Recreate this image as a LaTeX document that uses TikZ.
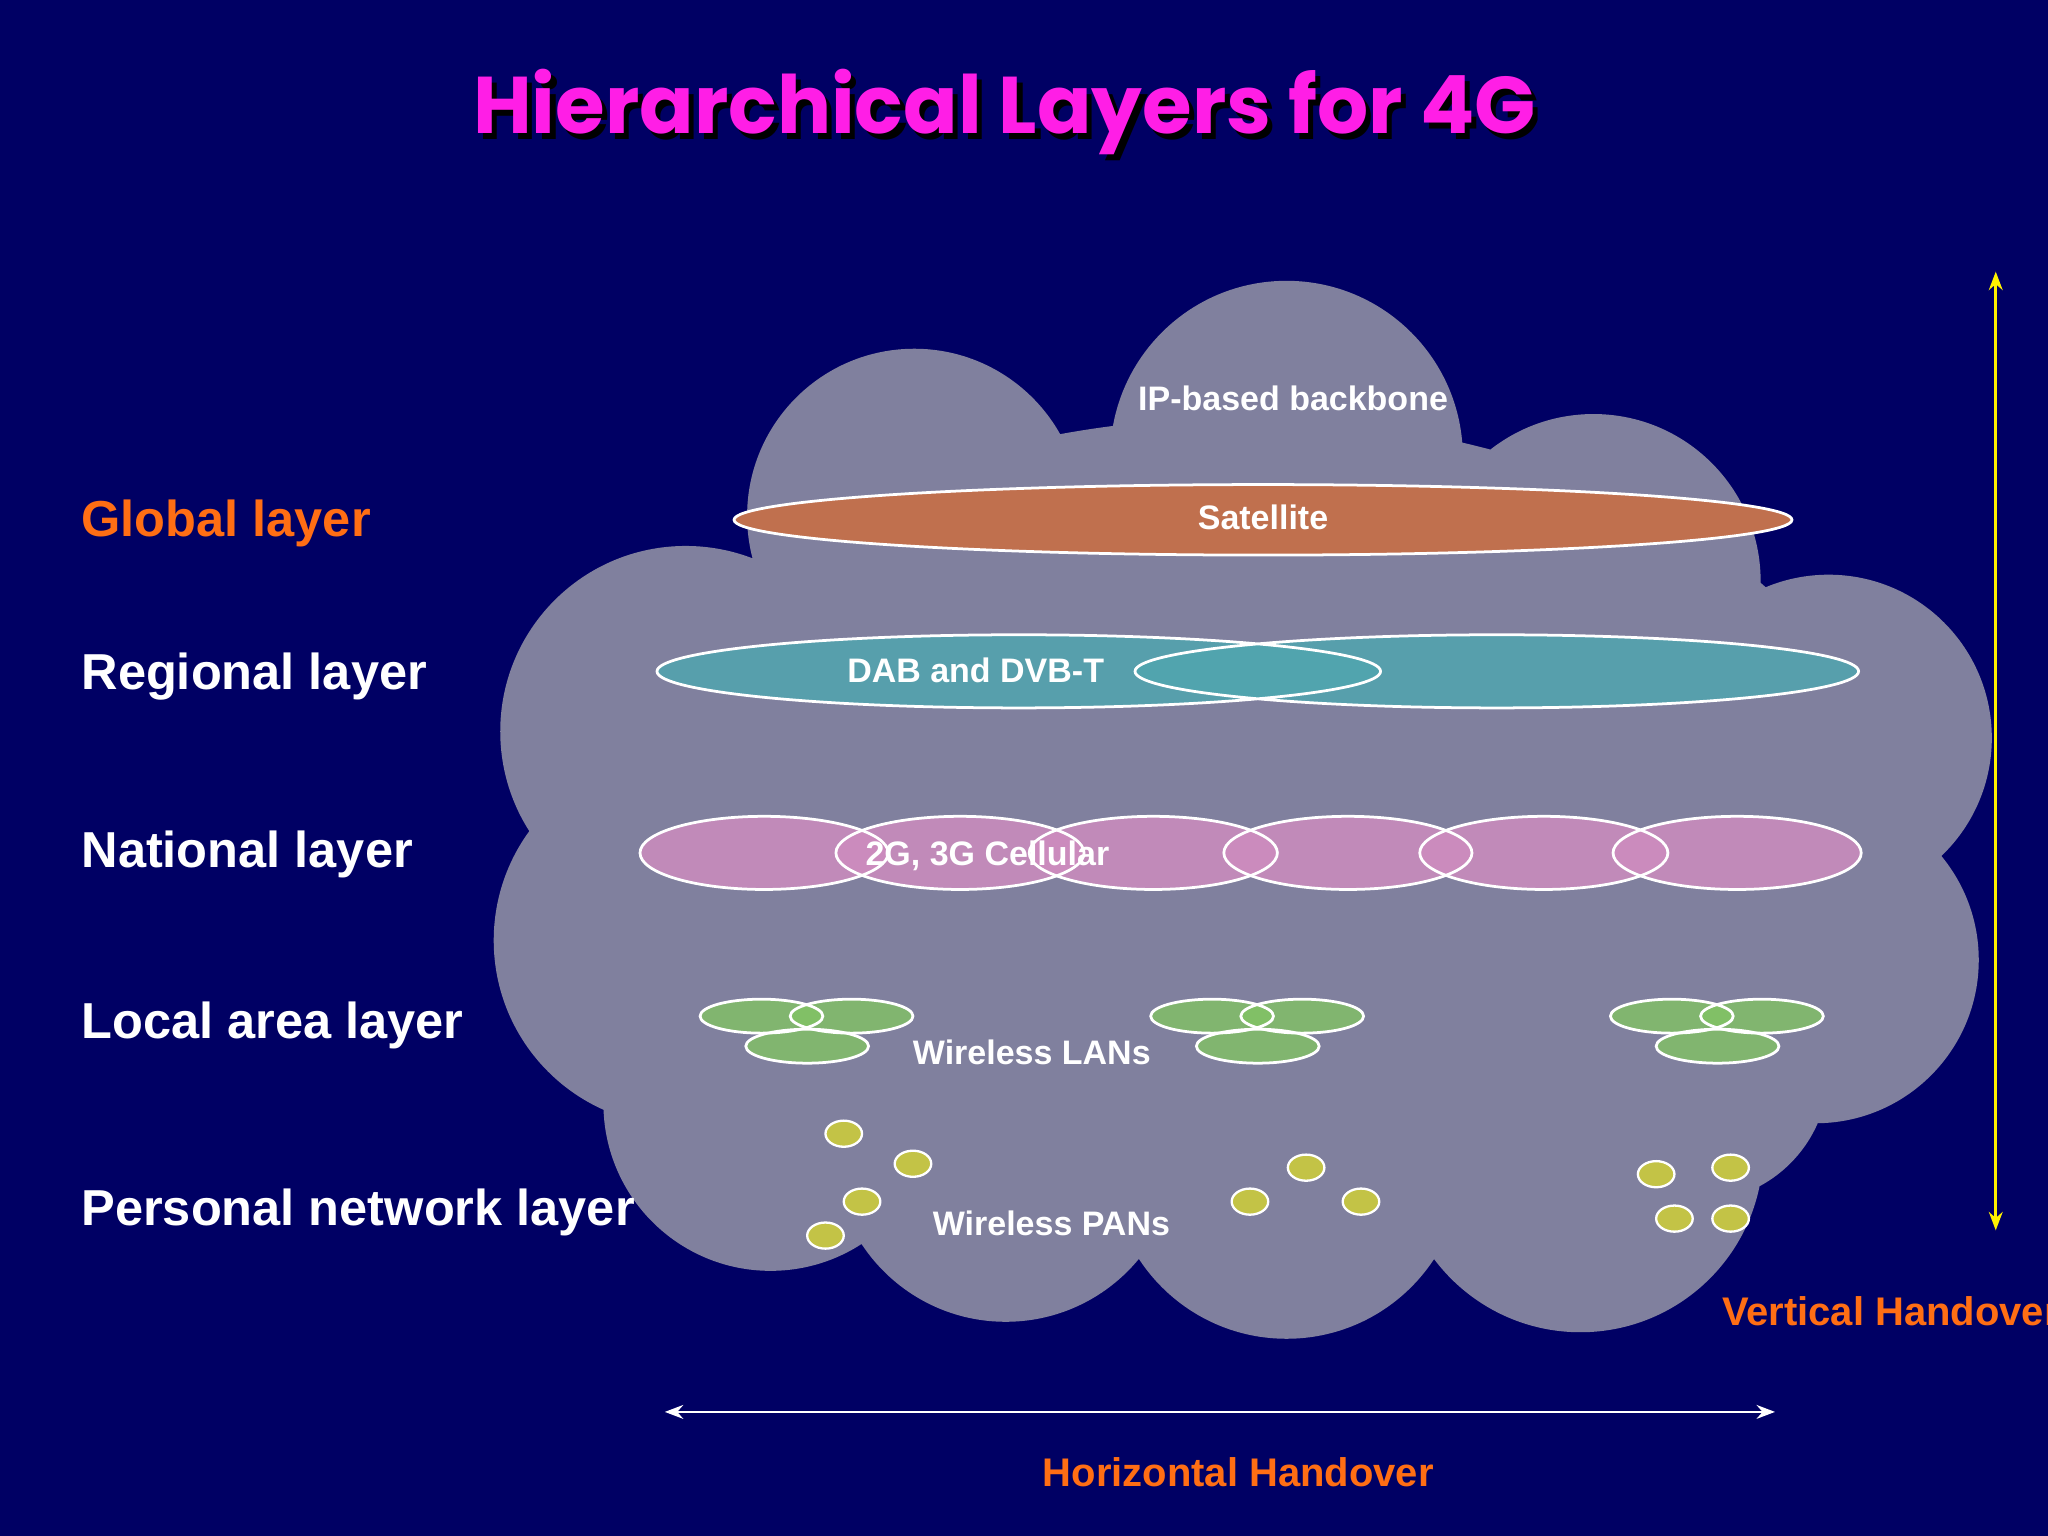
\documentclass[tikz,border=0pt]{standalone}
\usepackage{fontspec}
\setmainfont{Liberation Sans}
\newfontfamily\titlefont{Poppins}
\usetikzlibrary{arrows.meta}
\definecolor{bg}{RGB}{0,0,100}
\definecolor{cloud}{RGB}{128,128,158}
\definecolor{sat}{RGB}{192,112,78}
\definecolor{teal}{RGB}{80,165,175}
\definecolor{pinkc}{RGB}{205,140,190}
\definecolor{wlan}{RGB}{130,195,100}
\definecolor{pan}{RGB}{195,195,70}
\definecolor{orng}{RGB}{255,110,20}
\definecolor{mag}{RGB}{255,30,230}
\tikzset{
 lay/.style={anchor=west,text=white,font=\bfseries\fontsize{11}{13}\selectfont},
 inl/.style={text=white,font=\bfseries\fontsize{7.4}{9}\selectfont},
 orl/.style={text=orng,font=\bfseries\fontsize{8.7}{10}\selectfont},
 ttl/.style={font=\titlefont\bfseries\fontsize{17.5}{20}\selectfont},
 ell/.style={draw=white,line width=0.6pt},
}
\begin{document}
\begin{tikzpicture}[x=0.01cm,y=-0.01cm]
\fill[bg] (0,0) rectangle (1568,1176);
\useasboundingbox (0,0) rectangle (1568,1176);
% cloud
\fill[cloud] (700,395) circle (128) (985,350) circle (135) (1220,445) circle (128)
 (1400,565) circle (125) (525,560) circle (142) (520,720) circle (142)
 (590,845) circle (128) (770,880) circle (132) (985,890) circle (135)
 (1210,880) circle (140) (1390,735) circle (125) (1300,820) circle (100)
 (950,640) ellipse (500 and 320);
% satellite
\fill[sat] (967,398) ellipse (405 and 27);
\draw[ell] (967,398) ellipse (405 and 27);
\node[inl] (sat) at (967,396) {Satellite};
% DAB
\fill[teal,opacity=.85] (780,514) ellipse (277 and 28);
\fill[teal,opacity=.85] (1146,514) ellipse (277 and 28);
\draw[ell] (780,514) ellipse (277 and 28) (1146,514) ellipse (277 and 28);
\node[inl] (dab) at (747,513) {DAB and DVB-T};
% national
\foreach \x in {585,735,883,1032,1182,1330}{\fill[pinkc,opacity=.85] (\x,653) ellipse (95 and 28);}
\foreach \x in {585,735,883,1032,1182,1330}{\draw[ell] (\x,653) ellipse (95 and 28);}
\node[inl] (cel) at (756,655) {2G, 3G Cellular};
% WLAN
\foreach \d in {0,345,697}{
 \foreach \p in {(583+\d,778),(652+\d,778),(618+\d,801)}{\fill[wlan,opacity=.8] \p ellipse (47 and 13);}
 \foreach \p in {(583+\d,778),(652+\d,778),(618+\d,801)}{\draw[ell] \p ellipse (47 and 13);}
}
\node[inl] (wl) at (790,806) {Wireless LANs};
% PANs
\foreach \p in {(646,868),(699,891),(660,920),(632,946),(957,920),(1000,894),(1042,920),(1268,899),(1325,894),(1282,933),(1325,933)}{
 \fill[pan] \p ellipse (14 and 10); \draw[white,line width=0.5pt] \p ellipse (14 and 10);}
\node[inl] (wp) at (805,937) {Wireless PANs};
\node[inl] (ip) at (990,305) {IP-based backbone};
% layer labels
\node[lay,text=orng] (gl) at (50,401) {Global layer};
\node[lay] (rl) at (50,518) {Regional layer};
\node[lay] (nl) at (50,654) {National layer};
\node[lay] (ll) at (50,785) {Local area layer};
\node[lay] (pl) at (50,928) {Personal network layer};
% title
\node[ttl,text=black] (tsh) at (773,90) {Hierarchical Layers for 4G};
\node[ttl,text=mag] (title) at (769,86) {Hierarchical Layers for 4G};
% handovers
\coordinate (vt) at (1528,208); \coordinate (vb) at (1528,942);
\draw[yellow,line width=0.6pt,{Stealth[length=4pt]}-{Stealth[length=4pt]}] (vt) -- (vb);
\node[orl,anchor=west] (vh) at (1306,1004) {Vertical Handover};
\coordinate (hl) at (509,1081); \coordinate (hr) at (1359,1081);
\draw[white,line width=0.6pt,{Stealth[length=4pt]}-{Stealth[length=4pt]}] (hl) -- (hr);
\node[orl] (hh) at (948,1127) {Horizontal Handover};
\end{tikzpicture}
\end{document}
